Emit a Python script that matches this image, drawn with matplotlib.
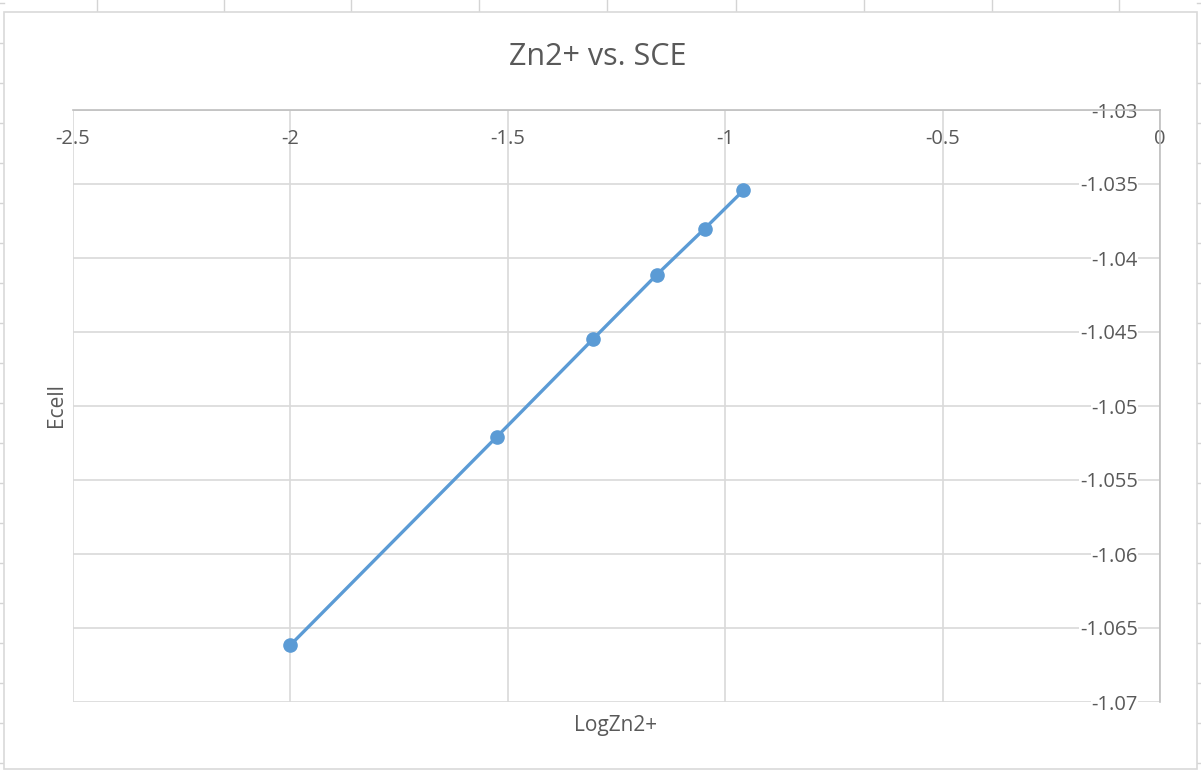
import matplotlib.pyplot as plt
from matplotlib.lines import Line2D
from matplotlib.patches import Rectangle

# Data
log_zn = [-2.0, -1.525, -1.303, -1.157, -1.047, -0.958]
ecell = [-1.06615, -1.05207, -1.04545, -1.04112, -1.03801, -1.03543]

x_ticks = [-2.5, -2, -1.5, -1, -0.5, 0]
x_tick_labels = ['-2.5', '-2', '-1.5', '-1', '-0.5', '0']
y_ticks = [-1.03, -1.035, -1.04, -1.045, -1.05, -1.055, -1.06, -1.065, -1.07]
y_tick_labels = ['-1.03', '-1.035', '-1.04', '-1.045', '-1.05', '-1.055', '-1.06', '-1.065', '-1.07']

W, H = 1201, 771
TEXT = '#595959'
GRID = '#d9d9d9'
AXIS = '#bfbfbf'
BLUE = '#5b9bd5'

plt.rcParams['font.family'] = ['Open Sans', 'DejaVu Sans']

fig = plt.figure(figsize=(W / 100, H / 100), dpi=100)
fig.patch.set_facecolor('white')


def fx(px):
    return px / W


def fy(py):
    return 1 - py / H


# Spreadsheet cell lines peeking out around the chart
for px in [97, 224, 351, 479, 607, 736, 864, 992, 1119]:
    fig.add_artist(Line2D([fx(px), fx(px)], [fy(0), fy(12)], color='#d4d4d4', lw=1, zorder=-20))
for py in range(3, 771, 40):
    fig.add_artist(Line2D([fx(0), fx(4)], [fy(py), fy(py)], color='#d4d4d4', lw=1, zorder=-20))
    fig.add_artist(Line2D([fx(1197), fx(1201)], [fy(py), fy(py)], color='#d4d4d4', lw=1, zorder=-20))

# Chart area frame (kept behind the axes)
fig.add_artist(Rectangle((fx(4), fy(769)), fx(1197) - fx(4), fy(12) - fy(769),
                         facecolor='white', edgecolor=GRID, lw=1.2,
                         transform=fig.transFigure, zorder=-10))

ax = fig.add_axes([fx(73), fy(702), fx(1160) - fx(73), fy(110) - fy(702)])
ax.set_facecolor('none')

ax.plot(log_zn, ecell, color=BLUE, lw=2.4, marker='o', markersize=9.5,
        markerfacecolor=BLUE, markeredgecolor=BLUE, zorder=3)

ax.set_xlim(-2.5, 0)
ax.set_ylim(-1.07, -1.03)
ax.set_xticks(x_ticks)
ax.set_xticklabels(x_tick_labels)
ax.set_yticks(y_ticks)
ax.set_yticklabels(y_tick_labels)

ax.grid(True, color=GRID, lw=1.2, zorder=0)
ax.set_axisbelow(True)

# Axes cross at the top-right corner: x axis at y=-1.03, y axis at x=0
ax.spines['bottom'].set_position(('data', -1.03))
ax.spines['left'].set_position(('data', 0))
ax.spines['bottom'].set_color(AXIS)
ax.spines['left'].set_color(AXIS)
ax.spines['top'].set_visible(False)
ax.spines['right'].set_visible(False)
for s in ['bottom', 'left']:
    ax.spines[s].set_linewidth(1.2)

ax.tick_params(axis='x', length=0, pad=14, labelsize=14.5, labelcolor=TEXT)
ax.tick_params(axis='y', length=0, pad=16, labelsize=14.5, labelcolor=TEXT)
for t in ax.get_yticklabels():
    t.set_bbox(dict(facecolor='white', edgecolor='none', pad=0.5))

fig.text(fx(598), fy(57), 'Zn2+ vs. SCE', ha='center', va='center', fontsize=22, color=TEXT)
fig.text(fx(616), fy(725), 'LogZn2+', ha='center', va='center', fontsize=15, color=TEXT)
fig.text(fx(57), fy(405), 'Ecell', ha='center', va='center', rotation=90, fontsize=15, color=TEXT)

fig.savefig('out.png', dpi=100)
